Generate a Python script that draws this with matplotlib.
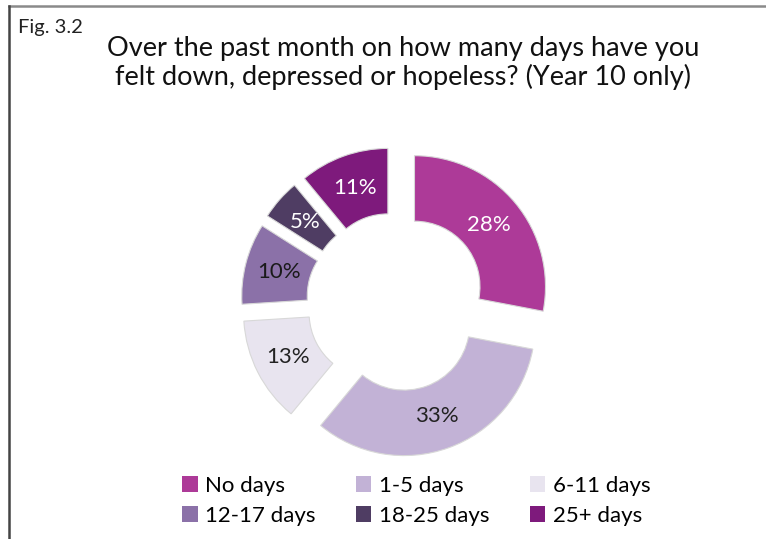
import matplotlib.pyplot as plt
from matplotlib.patches import Patch
from matplotlib.lines import Line2D

categories = ['No days', '1-5 days', '6-11 days', '12-17 days', '18-25 days', '25+ days']
percent = [28, 33, 13, 10, 5, 11]
colors = ['#ad3a98', '#c2b2d6', '#e8e4ef', '#8b71a8', '#4f3d63', '#7e1a7c']
label_colors = ['white', '#222222', '#222222', '#1a1a1a', 'white', 'white']

plt.rcParams['font.family'] = ['Lato', 'DejaVu Sans']

W, H = 766, 539
fig = plt.figure(figsize=(W / 100, H / 100), dpi=100)
ax = fig.add_axes([0, 0, 1, 1])

# pie drawn in pixel units so radius/explode are easy to tune
R = 131
wedges, texts, autotexts = ax.pie(
    percent, colors=colors, startangle=90, counterclock=False,
    center=(396, H - 302), radius=R, explode=[24] * len(percent),
    wedgeprops=dict(width=R * 0.5, edgecolor='#d8d8d8', linewidth=0.8),
    autopct=lambda p: '%d%%' % round(p), pctdistance=0.74,
    textprops=dict(fontsize=16))
for t, c in zip(autotexts, label_colors):
    t.set_color(c)

ax.set_xlim(0, W)
ax.set_ylim(0, H)
ax.set_aspect('equal')
ax.axis('off')

# frame lines (top and left)
fig.add_artist(Line2D([9 / W, 1], [1 - 6 / H, 1 - 6 / H], color='#8a8a8a', lw=1.8))
fig.add_artist(Line2D([9 / W, 9 / W], [0, 1 - 6 / H], color='#444444', lw=1.8))

fig.text(18 / W, 1 - 28 / H, 'Fig. 3.2', fontsize=14.5, va='center', ha='left', color='#222222')
fig.text(403 / W, 1 - 63 / H,
         'Over the past month on how many days have you\nfelt down, depressed or hopeless? (Year 10 only)',
         fontsize=19.5, ha='center', va='center', linespacing=1.15, color='#111111')

# legend filled row by row
order = [0, 3, 1, 4, 2, 5]
handles = [Patch(facecolor=colors[i], edgecolor='none') for i in order]
fig.legend(handles, [categories[i] for i in order], ncol=3, loc='upper left',
           bbox_to_anchor=(162 / W, 1 - 456 / H), frameon=False,
           fontsize=16, handlelength=0.7, handleheight=0.7,
           handletextpad=0.35, columnspacing=1.8, labelspacing=0.45)

fig.savefig('out.png', dpi=100)
